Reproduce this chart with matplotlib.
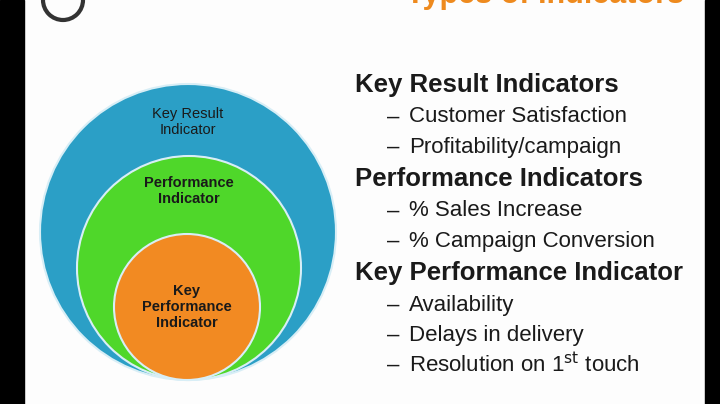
import matplotlib.pyplot as plt
from matplotlib.patches import Circle, Rectangle

plt.rcParams['font.family'] = ['Liberation Sans', 'DejaVu Sans']

# circles: label, centre x, centre y, radius, colour
circle_labels = ['Key Result\nIndicator', 'Performance\nIndicator', 'Key\nPerformance\nIndicator']
circle_cx = [188, 189, 187]
circle_cy = [232, 268, 307]
circle_r = [148, 112, 73]
circle_colors = ['#2b9fc6', '#4fd72a', '#f28a22']
label_dy = [-110, -77, 0]
label_bold = ['normal', 'bold', 'bold']

headings = ['Key Result Indicators', 'Performance Indicators', 'Key Performance Indicator']
items = [['Customer Satisfaction', 'Profitability/campaign'],
         ['% Sales Increase', '% Campaign Conversion'],
         ['Availability', 'Delays in delivery', 'Resolution on 1$^{\\mathrm{st}}$ touch']]

fig = plt.figure(figsize=(7.2, 4.04), dpi=100)
ax = fig.add_axes([0, 0, 1, 1])
ax.set_xlim(0, 720)
ax.set_ylim(404, 0)
ax.axis('off')
fig.patch.set_facecolor('#fdfdfd')

# black side bars
ax.add_patch(Rectangle((0, 0), 24, 404, color='black'))
ax.add_patch(Rectangle((705, 0), 15, 404, color='black'))

# title, cut off by the top edge like the reference
ax.text(545, -5, 'Types of Indicators', color='#ee8a1e', fontsize=22, fontweight='bold',
        ha='center', va='center')
ax.add_patch(Circle((63, 0), 20, fill=False, lw=3, ec='#333333'))

for lab, cx, cy, r, c, dy, fw in zip(circle_labels, circle_cx, circle_cy, circle_r,
                                     circle_colors, label_dy, label_bold):
    ax.add_patch(Circle((cx, cy), r, fc=c, ec='#d8eef6', lw=1.5))
    ax.text(cx, cy + dy, lab, ha='center', va='center', fontsize=10.5, fontweight=fw,
            color='#1a1a1a', linespacing=1.2)

y = 85
for h, its in zip(headings, items):
    ax.text(355, y, h, fontsize=18.5, fontweight='bold', color='#1a1a1a', va='center')
    y += 32
    for it in its:
        ax.text(387, y, '\u2013', fontsize=16, color='#1a1a1a', va='center')
        ax.text(409, y, it, fontsize=16, color='#1a1a1a', va='center')
        y += 30
    y += 2

fig.savefig('out.png', dpi=100, facecolor=fig.get_facecolor())
